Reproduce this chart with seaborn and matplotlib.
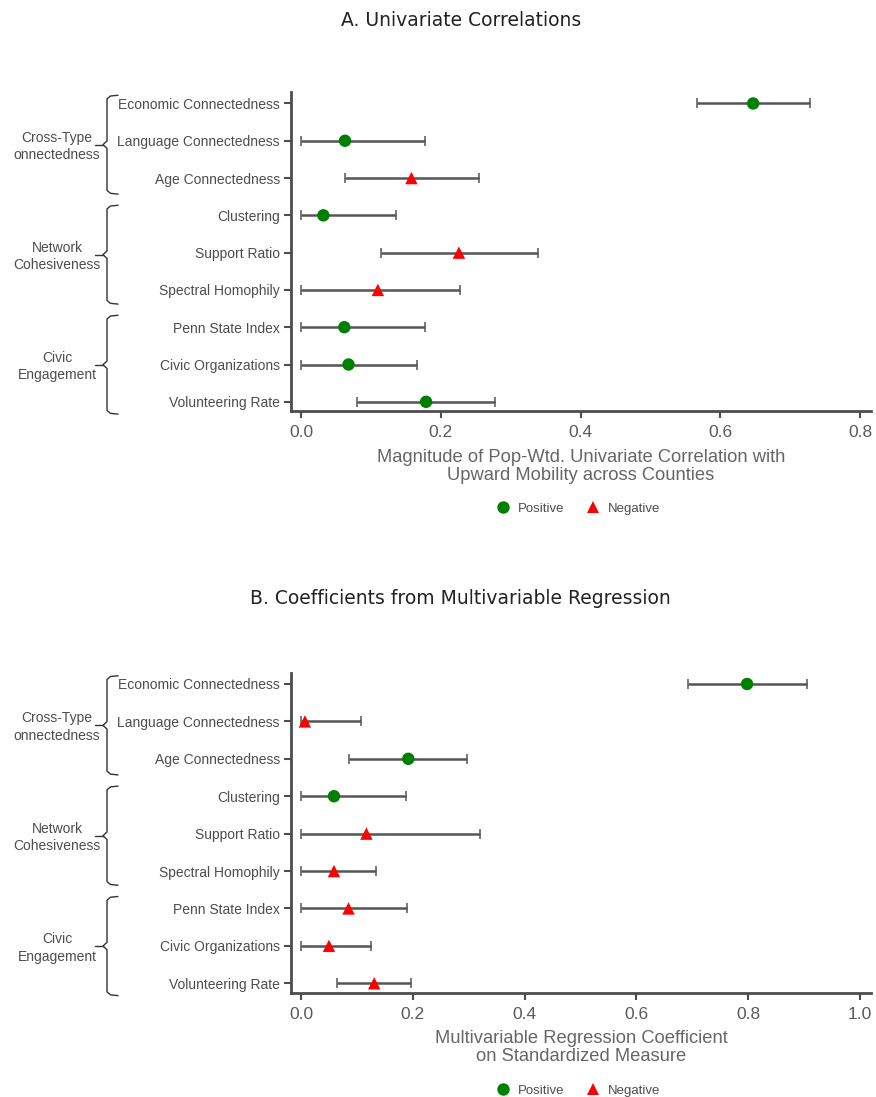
import numpy as np
import pandas as pd
import matplotlib
matplotlib.use("Agg")
import matplotlib.pyplot as plt
import seaborn as sns
from matplotlib.lines import Line2D

sns.set_theme(style="white")
plt.rcParams['font.family'] = ['Liberation Sans', 'DejaVu Sans']

# ---------------- data ----------------
measures = ["Economic Connectedness", "Language Connectedness", "Age Connectedness",
            "Clustering", "Support Ratio", "Spectral Homophily",
            "Penn State Index", "Civic Organizations", "Volunteering Rate"]
groups = ["Cross-Type\nonnectedness", "Network\nCohesiveness", "Civic\nEngagement"]

a_est = [0.647, 0.063, 0.158, 0.032, 0.226, 0.110, 0.062, 0.068, 0.179]
a_lo = [0.566, 0.0, 0.063, 0.0, 0.114, 0.0, 0.0, 0.0, 0.080]
a_hi = [0.728, 0.178, 0.255, 0.136, 0.339, 0.228, 0.178, 0.166, 0.277]
a_sign = ["Positive", "Positive", "Negative", "Positive", "Negative", "Negative",
          "Positive", "Positive", "Positive"]

b_est = [0.798, 0.007, 0.192, 0.059, 0.117, 0.059, 0.085, 0.050, 0.131]
b_lo = [0.692, 0.0, 0.086, 0.0, 0.0, 0.0, 0.0, 0.0, 0.064]
b_hi = [0.905, 0.108, 0.297, 0.187, 0.321, 0.135, 0.189, 0.126, 0.197]
b_sign = ["Positive", "Negative", "Positive", "Positive", "Negative", "Negative",
          "Negative", "Negative", "Negative"]

a_ticks = [0.0, 0.2, 0.4, 0.6, 0.8]
b_ticks = [0.0, 0.2, 0.4, 0.6, 0.8, 1.0]

W, H = 876, 1097
fig = plt.figure(figsize=(W / 100, H / 100), dpi=100)

GRAY_TXT = "#4d4d4d"
AX_COL = "#4d4d4d"


def px_axes(left, top, right, bottom):
    return fig.add_axes([left / W, 1 - bottom / H, (right - left) / W, (bottom - top) / H])


def panel(ax, est, lo, hi, sign, xlim, ticks, xlabel, title, title_y):
    df = pd.DataFrame({"Measure": measures, "est": est, "lo": lo, "hi": hi, "Sign": sign})
    df["pos"] = np.arange(len(df))
    err = np.vstack([df["est"] - df["lo"], df["hi"] - df["est"]])
    ax.errorbar(df["est"], df["pos"], xerr=err, fmt="none", ecolor="#555555",
                elinewidth=1.8, capsize=3.5, capthick=1.1, zorder=1)
    sns.scatterplot(data=df, x="est", y="pos", hue="Sign", style="Sign",
                    hue_order=["Positive", "Negative"], style_order=["Positive", "Negative"],
                    palette={"Positive": "#008000", "Negative": "#ff0000"},
                    markers={"Positive": "o", "Negative": "^"},
                    s=80, linewidth=0, ax=ax, zorder=3)
    ax.set_xlim(*xlim)
    ax.set_ylim(8.26, -0.294)
    ax.set_yticks(df["pos"])
    ax.set_yticklabels(measures, fontsize=10, color=GRAY_TXT)
    ax.set_xticks(ticks)
    ax.set_xticklabels([f"{t:.1f}" for t in ticks], fontsize=12.5, color="#5a5a5a")
    ax.tick_params(axis="both", which="both", length=5, width=1.5, color=AX_COL,
                   left=True, bottom=True, pad=3)
    ax.tick_params(axis="x", pad=5)
    for s in ["top", "right"]:
        ax.spines[s].set_visible(False)
    for s in ["left", "bottom"]:
        ax.spines[s].set_color(AX_COL)
        ax.spines[s].set_linewidth(2)
    ax.set_xlabel(xlabel, fontsize=13.2, color="#666666", labelpad=6, linespacing=1.06)
    ax.set_ylabel("")
    sns.move_legend(ax, "center", bbox_to_anchor=(0.49, -0.305), ncol=2, frameon=False,
                    title=None, fontsize=9.5, handletextpad=0.1, columnspacing=1.2,
                    markerscale=1.0)
    for t in ax.get_legend().get_texts():
        t.set_color(GRAY_TXT)
    fig.text(0.526, 1 - title_y / H, title, ha="center", va="center",
             fontsize=13.5, family=["DejaVu Sans"], color="#222222")

    # group brackets, x in axes fraction, y in data units
    tr = ax.get_yaxis_transform()
    axw = 580.0
    xv = (107 - 291) / axw
    xh = (118 - 291) / axw
    xt = (95 - 291) / axw
    xc = (103 - 291) / axw
    dy = 0.1
    for i, g in enumerate(groups):
        y0 = -0.22 + 2.95 * i
        y1 = y0 + 2.65
        ym = (y0 + y1) / 2
        xs = [xh, xv + 0.006, xv, xv, xc, xv, xv, xv + 0.006, xh]
        ys = [y0, y0 + 0.02, y0 + dy, ym - dy, ym, ym + dy, y1 - dy, y1 - 0.02, y1]
        ax.add_line(Line2D(xs, ys, transform=tr, color="#333333", lw=1.0, clip_on=False))
        ax.add_line(Line2D([xt, xc], [ym, ym], transform=tr, color="#333333", lw=1.0,
                           clip_on=False))
        ax.text((57 - 291) / axw, ym + 0.05, g, transform=tr, ha="center", va="center",
                fontsize=10, color=GRAY_TXT, linespacing=1.35)


axA = px_axes(291, 92.5, 871, 411.5)
panel(axA, a_est, a_lo, a_hi, a_sign, (-0.0143, 0.8157), a_ticks,
      "Magnitude of Pop-Wtd. Univariate Correlation with\nUpward Mobility across Counties",
      "A. Univariate Correlations", 20)

axB = px_axes(291, 673, 871, 993)
panel(axB, b_est, b_lo, b_hi, b_sign, (-0.0179, 1.0197), b_ticks,
      "Multivariable Regression Coefficient\non Standardized Measure",
      "B. Coefficients from Multivariable Regression", 598)

fig.savefig("out.png", dpi=100)
